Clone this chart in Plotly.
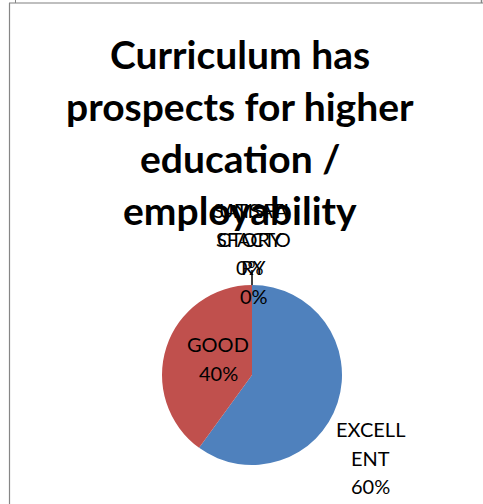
import plotly.graph_objects as go

categories = ["EXCELLENT", "GOOD", "SATISFACTORY", "UNSATISFACTORY"]
values = [60, 40, 0, 0]
label_lines = [["EXCELL", "ENT"], ["GOOD"], ["SATISFA", "CTORY"], ["UNSATI", "SFACTO", "RY"]]
colors = ["#4F81BD", "#C0504D", "#9BBB59", "#8064A2"]
title_lines = ["Curriculum has", "prospects for higher", "education /", "employability"]

W, H = 483, 504
FONT = "Lato"

def px(x):
    return x / W

def py(y):
    return 1 - y / H

cx, cy, r = 252, 375, 90

fig = go.Figure()
fig.add_trace(go.Pie(
    labels=categories,
    values=values,
    sort=False,
    direction="clockwise",
    rotation=0,
    marker=dict(colors=colors, line=dict(width=0)),
    textinfo="none",
    hoverinfo="label+percent",
    showlegend=False,
    domain=dict(x=[px(cx - r), px(cx + r)], y=[py(cy + r), py(cy - r)]),
))

total = sum(values)
annotations = []
title_y = [54, 106, 158, 210]
for t, y in zip(title_lines, title_y):
    annotations.append(dict(text="<b>" + t + "</b>", x=px(240), y=py(y), xref="paper", yref="paper",
                            showarrow=False, xanchor="center", yanchor="middle",
                            font=dict(family=FONT, size=39, color="#000000")))

label_pos = [(370, 429), (218, 344), (250, 210), (254, 210)]
line_gap = 28.5
for i, cat in enumerate(categories):
    pct = f"{round(values[i] / total * 100)}%"
    lines = label_lines[i] + [pct]
    x0, y0 = label_pos[i]
    for k, ln in enumerate(lines):
        annotations.append(dict(text=ln, x=px(x0), y=py(y0 + k * line_gap), xref="paper", yref="paper",
                                showarrow=False, xanchor="center", yanchor="middle",
                                font=dict(family=FONT, size=20, color="#000000")))

shapes = [
    dict(type="line", xref="paper", yref="paper", x0=px(9), x1=px(483), y0=py(3), y1=py(3),
         line=dict(color="#BFBFBF", width=2)),
    dict(type="line", xref="paper", yref="paper", x0=px(9.5), x1=px(9.5), y0=py(3), y1=py(504),
         line=dict(color="#868686", width=1.2)),
    dict(type="line", xref="paper", yref="paper", x0=px(15.5), x1=px(15.5), y0=py(0), y1=py(3),
         line=dict(color="#868686", width=1)),
    dict(type="line", xref="paper", yref="paper", x0=px(481.5), x1=px(481.5), y0=py(0), y1=py(3),
         line=dict(color="#868686", width=1.5)),
    dict(type="line", xref="paper", yref="paper", x0=px(252), x1=px(252), y0=py(270), y1=py(285),
         line=dict(color="#000000", width=1.5)),
]

fig.update_layout(
    width=W, height=H,
    margin=dict(l=0, r=0, t=0, b=0),
    paper_bgcolor="#FFFFFF",
    plot_bgcolor="#FFFFFF",
    annotations=annotations,
    shapes=shapes,
    font=dict(family=FONT),
)

fig.write_html("out.html", config={"displayModeBar": False},
               post_script="document.body.style.margin='0';document.body.style.overflow='hidden';")
